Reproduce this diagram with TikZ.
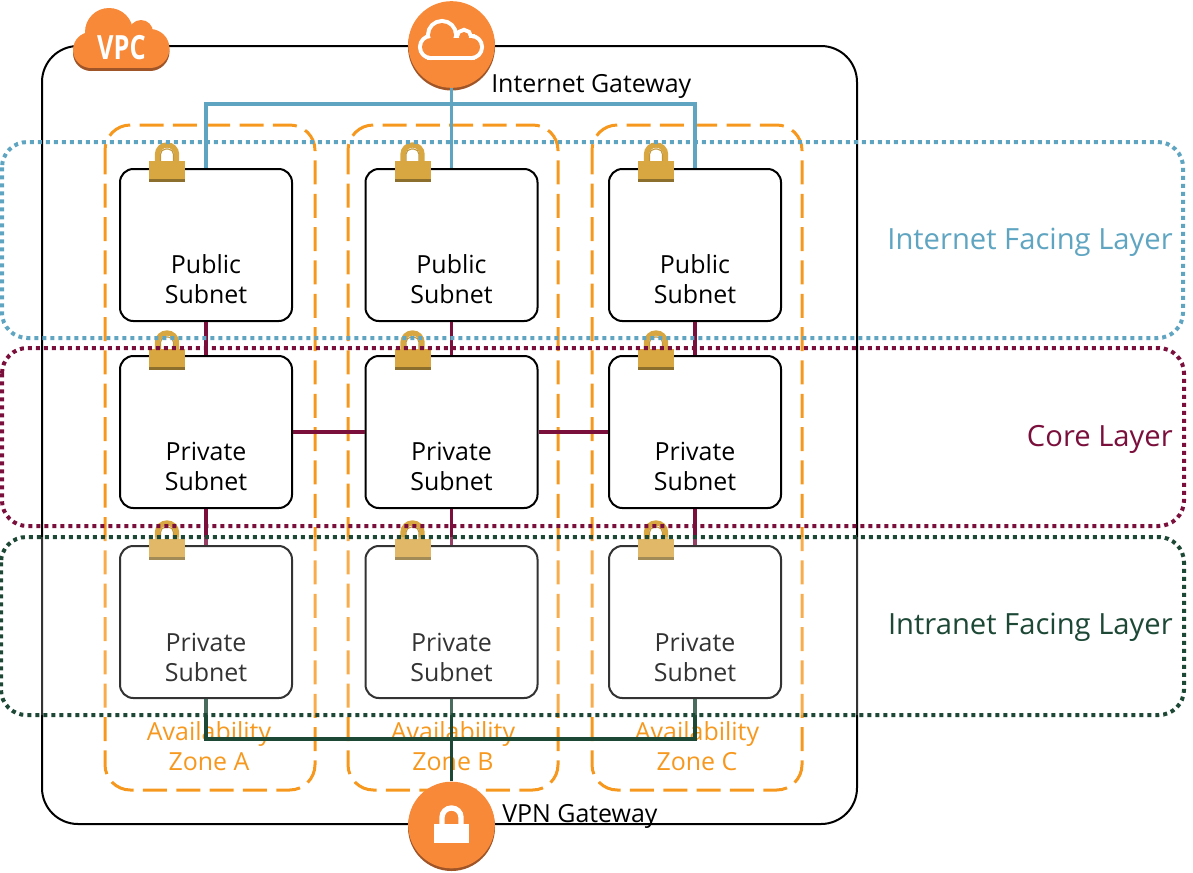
\documentclass[tikz,border=0pt]{standalone}
\usepackage{fontspec}
\setmainfont{Open Sans}
\usepackage{tikz}
\definecolor{awsorange}{RGB}{247, 137, 56}
\definecolor{awsshadow}{RGB}{160, 85, 40}
\definecolor{zoneorange}{RGB}{247, 152, 30}
\definecolor{inetblue}{RGB}{95, 165, 193}
\definecolor{coremaroon}{RGB}{122, 15, 60}
\definecolor{intragreen}{RGB}{29, 72, 54}
\definecolor{lockgold}{RGB}{217, 167, 65}
\definecolor{lockdark}{RGB}{140, 110, 45}

\tikzset{
    subnetbox/.style={draw, line width=1.5pt, rounded corners=10pt, fill=white, minimum width=129pt, minimum height=114pt},
    subnettext/.style={align=center, inner sep=0pt, font=\fontsize{18.7}{22.5}\selectfont},
    zonetext/.style={subnettext, text=zoneorange},
    zonebox/.style={draw=zoneorange, line width=2.25pt, rounded corners=19pt, dash pattern=on 18pt off 7pt},
    layerbox/.style={line width=3pt, rounded corners=19pt, dash pattern=on 3pt off 3pt},
    layertext/.style={anchor=east, inner sep=0pt, font=\fontsize{21.9}{26}\selectfont},
    gateway/.style={circle, fill=awsorange, minimum size=65pt, inner sep=0pt},
    gatewaytext/.style={anchor=west, inner sep=0pt, font=\fontsize{18.7}{22.5}\selectfont},
    inetline/.style={draw=inetblue, line width=2.4pt},
    coreline/.style={draw=coremaroon, line width=2.4pt},
    intraline/.style={draw=intragreen, line width=2.4pt}
}

% padlock on the corner of a subnet, #1 and #2 are the top middle of its body
\newcommand{\padlock}[2]{
    \begin{scope}[shift={(#1,#2)}]
        \draw[lockgold, line width=4pt, rounded corners=7pt] (-9.5,2) -- (-9.5,-16) -- (9.5,-16) -- (9.5,2);
        \draw[lockgold!70!lockdark, line width=0.8pt, rounded corners=4pt] (-6.5,0) -- (-6.5,-12) -- (6.5,-12) -- (6.5,0);
        \fill[lockgold] (-18,0) rectangle (18,18);
        \fill[lockdark] (-18,18) rectangle (18,21);
    \end{scope}
}

% the blobs of the gateway cloud, #1 is how they are painted
\newcommand{\cloudblobs}[1]{
    \path[#1] (442,35) circle[radius=12];
    \path[#1] (464,37) circle[radius=5];
    \path[#1] (431,47) circle[radius=9];
    \path[#1] (471,47) circle[radius=9];
    \path[#1] (431,38) rectangle (471,56);
}

\begin{document}
\begin{tikzpicture}[x=0.75pt, y=-0.75pt]
    \useasboundingbox (0,0) rectangle (1193,872);

    % vpc box
    \draw[line width=1.5pt, rounded corners=27pt] (42,46) rectangle (857,824);

    % zones
    \draw[zonebox] (105,125) rectangle (315,790);
    \draw[zonebox] (348,125) rectangle (558,790);
    \draw[zonebox] (592,125) rectangle (802,790);
    \node[zonetext] (zoneA) at (209,746) {Availability\\Zone A};
    \node[zonetext] (zoneB) at (453,746) {Availability\\Zone B};
    \node[zonetext] (zoneC) at (697,746) {Availability\\Zone C};

    % subnets, one column at a time
    \foreach \i/\col in {1/206, 2/451.5, 3/695}{
            \node[subnetbox] (pub\i) at (\col, 245) {};
            \node[subnetbox] (priv\i) at (\col, 432) {};
            \node[subnetbox] (intra\i) at (\col, 622) {};
            \node[subnettext] (pubtext\i) at (\col, 279) {Public\\Subnet};
            \node[subnettext] (privtext\i) at (\col, 466) {Private\\Subnet};
            \node[subnettext] (intratext\i) at (\col, 657) {Private\\Subnet};
        }

    % gateways
    \fill[awsshadow] (451.5,47) circle[radius=43.5];
    \node[gateway] (igw) at (451.5,44.5) {};
    \fill[awsshadow] (451.5,827.5) circle[radius=43.5];
    \node[gateway] (vgw) at (451.5,825) {};
    \node[gatewaytext] (igwtext) at (491,86) {Internet Gateway};
    \node[gatewaytext] (vgwtext) at (502,816) {VPN Gateway};

    % connect the internet gateway to the public subnets
    \coordinate (inetbus) at (451.5,104);
    \draw[inetline] (pub1.north) |- (inetbus) -| (pub3.north);
    \draw[inetline] (igw.south) -- (pub2.north);

    % connect the layers inside each column
    \foreach \i in {1, 2, 3}{
            \draw[coreline] (pub\i) -- (priv\i);
            \draw[coreline] (priv\i) -- (intra\i);
        }
    \draw[coreline] (priv1) -- (priv2);
    \draw[coreline] (priv2) -- (priv3);

    % connect the intranet subnets to the vpn gateway
    \coordinate (intrabus) at (451.5,739);
    \draw[intraline] (intra1.south) |- (intrabus) -| (intra3.south);
    \draw[intraline] (intra2.south) -- (vgw.north);

    % locks of the subnets
    \foreach \lockx in {167, 412.5, 656}{
            \padlock{\lockx}{161}
            \padlock{\lockx}{349}
            \padlock{\lockx}{539}
        }

    % layers, the lowest one veils what is under it
    \draw[layerbox, draw=inetblue] (2,142) rectangle (1183,338);
    \draw[layerbox, draw=coremaroon] (2,348) rectangle (1184,526);
    \fill[white, fill opacity=0.2, rounded corners=19pt] (1,537) rectangle (1184,715);
    \draw[layerbox, draw=intragreen] (1,537) rectangle (1184,715);
    \node[layertext, text=inetblue] (inettext) at (1173,242) {Internet Facing Layer};
    \node[layertext, text=coremaroon] (coretext) at (1173,439) {Core Layer};
    \node[layertext, text=intragreen] (intranettext) at (1173,627) {Intranet Facing Layer};

    % vpc logo
    \fill[awsshadow] (91,53) circle[radius=18] (150,51.5) circle[radius=19.5];
    \fill[awsshadow] (91,50) rectangle (150,71);
    \fill[awsorange] (109,32) circle[radius=24];
    \fill[awsorange] (141,32) circle[radius=12];
    \fill[awsorange] (91,50) circle[radius=18];
    \fill[awsorange] (150,48.5) circle[radius=19.5];
    \fill[awsorange] (91,36) rectangle (150,68);
    \node[text=white, inner sep=0pt, font=\fontsize{25}{30}\selectfont\bfseries] (vpctext) at (121.5,48) {\scalebox{0.76}[1]{VPC}};

    % cloud of the internet gateway
    \cloudblobs{draw=white, line width=6pt}
    \cloudblobs{fill=awsorange}

    % lock of the vpn gateway
    \draw[white, line width=4pt, rounded corners=7pt] (442,826) -- (442,808) -- (461,808) -- (461,826);
    \fill[white] (434,824) rectangle (469,843);
\end{tikzpicture}
\end{document}
